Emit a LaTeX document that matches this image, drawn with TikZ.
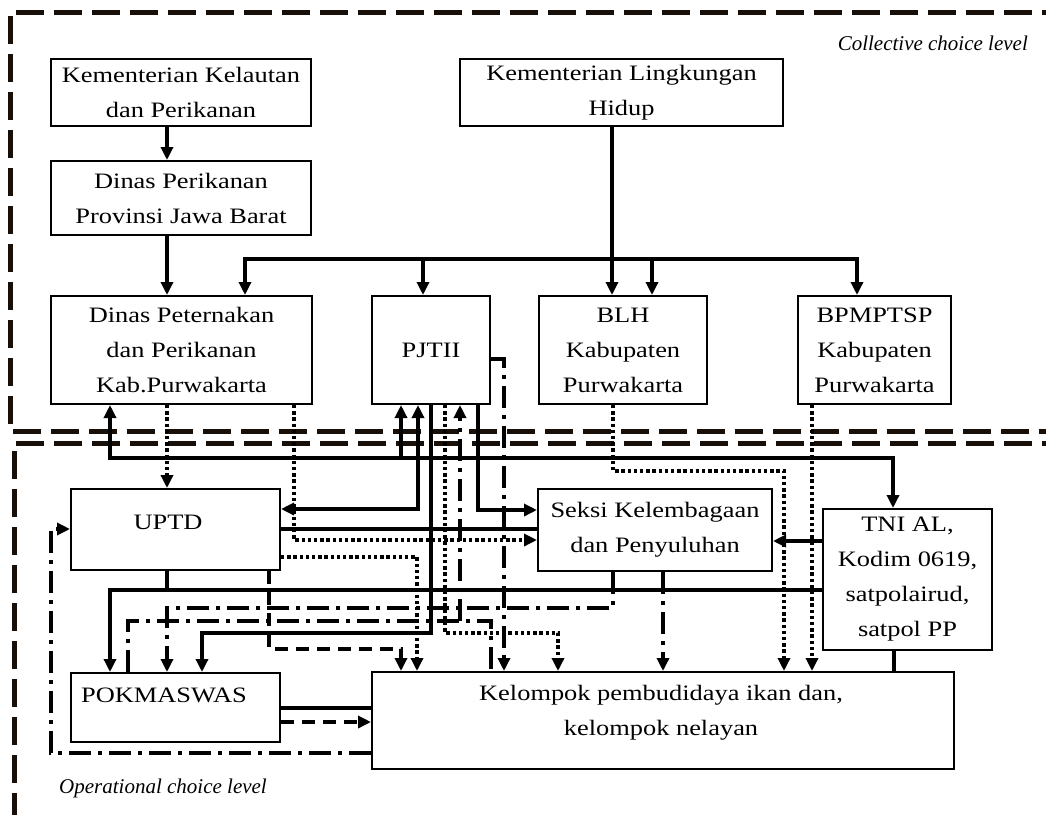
\documentclass[tikz,border=0pt]{standalone}
\usepackage{fontspec}
\setmainfont{Liberation Serif}[FakeStretch=1.2]
\newfontfamily\lvlfont{Liberation Serif}
\usetikzlibrary{arrows.meta}
\tikzset{
  box/.style={draw, line width=2pt, align=center, inner sep=0pt, font=\fontsize{22}{35}\selectfont},
  plain/.style={font=\fontsize{22}{35}\selectfont, align=center, inner sep=0pt},
  conn/.style={line width=3.4pt},
  arr/.style={-{Triangle[length=13pt,width=12pt]}},
  biarr/.style={{Triangle[length=13pt,width=12pt]}-{Triangle[length=13pt,width=12pt]}},
  dotline/.style={dash pattern=on 3.4pt off 2.8pt},
  dashline/.style={dash pattern=on 13pt off 8pt},
  dashdotline/.style={dash pattern=on 22pt off 7pt on 4pt off 7pt},
  region/.style={line width=5pt, dash pattern=on 28pt off 10pt, color=black!88!brown},
  lvl/.style={font=\lvlfont\fontsize{21}{24}\selectfont\itshape, inner sep=0pt}
}
\begin{document}
\begin{tikzpicture}[x=1pt,y=-1pt]
\useasboundingbox (0,0) rectangle (1046,814);
\foreach \v in {51,110,128,167,202,245,269,294,401,417,418,423,431,445,460,478,491,504,558,612,613,652,663,784,812,857,893,894}
  {\coordinate (X\v) at (\v,0);}
\foreach \v in {359,509,510,529,540,541,557,708,722,753}
  {\coordinate (Y\v) at (0,\v);}

% regions
\draw[region] (1070,12) -- (10,12) -- (10,431) -- (1070,431);
\draw[region] (1070,443) -- (14,443) -- (14,840);
\node[lvl, anchor=east] (coll) at (1028,43) {Collective choice level};
\node[lvl, anchor=west] (oper) at (59,788) {Operational choice level};

% boxes
\node[box, minimum width=260pt, minimum height=67pt] (kkp) at (181,92.5) {Kementerian Kelautan\\dan Perikanan};
\node[box, minimum width=323pt, minimum height=67pt] (klh) at (621.5,92.5) {Kementerian Lingkungan\\Hidup};
\node[box, minimum width=260pt, minimum height=74pt] (dpp) at (181,198) {Dinas Perikanan\\Provinsi Jawa Barat};
\node[box, minimum width=261pt, minimum height=108pt] (disnak) at (181.5,350) {Dinas Peternakan\\dan Perikanan\\Kab.Purwakarta};
\node[box, minimum width=118pt, minimum height=108pt] (pjt) at (431,350) {PJTII};
\node[box, minimum width=168pt, minimum height=108pt] (blh) at (623,350) {BLH\\Kabupaten\\Purwakarta};
\node[box, minimum width=153pt, minimum height=108pt] (bpm) at (874.5,350) {BPMPTSP\\Kabupaten\\Purwakarta};
\node[box, minimum width=209pt, minimum height=81pt] (uptd) at (175.5,529.5) {};
\node[plain] (uptdt) at (168,522) {UPTD};
\node[box, minimum width=234pt, minimum height=82pt] (seksi) at (655,530) {Seksi Kelembagaan\\dan Penyuluhan};
\node[box, minimum width=169pt, minimum height=141pt] (tni) at (907.5,579.5) {TNI AL,\\Kodim 0619,\\satpolairud,\\satpol PP};
\node[box, minimum width=209pt, minimum height=69pt] (pok) at (175.5,707.5) {};
\node[plain] (pokt) at (164,695) {POKMASWAS};
\node[box, minimum width=582pt, minimum height=97pt] (kel) at (663,720.5) {};
\node[plain] (kelt) at (661,713) {Kelompok pembudidaya ikan dan,\\kelompok nelayan};

% collective level connectors
\draw[conn,arr] (kkp.south -| X167) -- (dpp.north -| X167);
\draw[conn,arr] (dpp.south -| X167) -- (disnak.north -| X167);
\draw[conn,arr] (klh.south -| X612) -- (blh.north -| X612);
\coordinate (bus) at (612,259);
\draw[conn,arr] (bus) -| (disnak.north -| X245);
\draw[conn,arr] (bus) -| (pjt.north -| X423);
\draw[conn,arr] (bus) -| (blh.north -| X652);
\draw[conn,arr] (bus) -| (bpm.north -| X857);

% Disnak <-> PJTII <-> TNI
\draw[conn,biarr] (disnak.south -| X110) -- (110,458) -- (893,458) -- (tni.north -| X893);
\draw[conn,arr] (401,458) -- (pjt.south -| X401);
% UPTD <-> PJTII
\draw[conn,biarr] (uptd.east |- Y509) -- (418,509) -- (pjt.south -| X418);
% PJTII -> POKMASWAS
\draw[conn,arr] (pjt.south -| X431) -- (431,633) -- (202,633) -- (pok.north -| X202);
% PJTII dotted -> Kelompok
\draw[conn,dotline,arr] (pjt.south -| X445) -- (445,633) -- (558,633) -- (kel.north -| X558);
% PJTII -> Seksi
\draw[conn,arr] (pjt.south -| X478) |- (seksi.west |- Y510);
% PJTII dash-dot -> Kelompok
\draw[conn,dashdotline,arr] (pjt.east |- Y359) -- (504,359) -- (kel.north -| X504);
% POKMASWAS / Kelompok / PJTII dash-dot
\draw[conn,dashdotline] (pok.north -| X128) -- (128,621) -- (491,621) -- (kel.north -| X491);
\draw[conn,dashdotline,arr] (460,621) -- (pjt.south -| X460);
% Seksi dash-dot -> POKMASWAS
\draw[conn,dashdotline,arr] (seksi.south -| X613) -- (613,608) -- (167,608) -- (pok.north -| X167);
% TNI -> POKMASWAS
\draw[conn,arr] (tni.west |- 0,590) -- (110,590) -- (pok.north -| X110);
\draw[conn] (uptd.south -| X167) -- (167,592);
\draw[conn] (seksi.south -| X613) -- (613,592);
% Disnak dotted
\draw[conn,dotline,arr] (disnak.south -| X167) -- (uptd.north -| X167);
\draw[conn,dotline,arr] (disnak.south -| X294) |- (seksi.west |- Y540);
% UPTD connectors
\draw[conn] (uptd.east |- Y529) -- (seksi.west |- Y529);
\draw[conn,dotline,arr] (uptd.east |- Y557) -| (kel.north -| X417);
\draw[conn,dashline,arr] (uptd.south -| X269) -- (269,649) -- (401,649) -- (kel.north -| X401);
% Kelompok -> UPTD loop
\draw[conn,dashdotline,arr] (kel.west |- Y753) -- (51,753) -- (51,529) -- (uptd.west |- Y529);
% POKMASWAS -- Kelompok
\draw[conn] (pok.east |- Y708) -- (kel.west |- Y708);
\draw[conn,dashline,arr] (pok.east |- Y722) -- (kel.west |- Y722);
% Seksi -> Kelompok
\draw[conn,dashdotline,arr] (seksi.south -| X663) -- (kel.north -| X663);
% TNI
\draw[conn,arr] (tni.west |- Y541) -- (seksi.east |- Y541);
\draw[conn] (tni.south -| X894) -- (kel.north -| X894);
% BLH, BPMPTSP dotted
\draw[conn,dotline,arr] (blh.south -| X613) -- (613,471) -- (784,471) -- (kel.north -| X784);
\draw[conn,dotline,arr] (bpm.south -| X812) -- (kel.north -| X812);
\end{tikzpicture}
\end{document}
